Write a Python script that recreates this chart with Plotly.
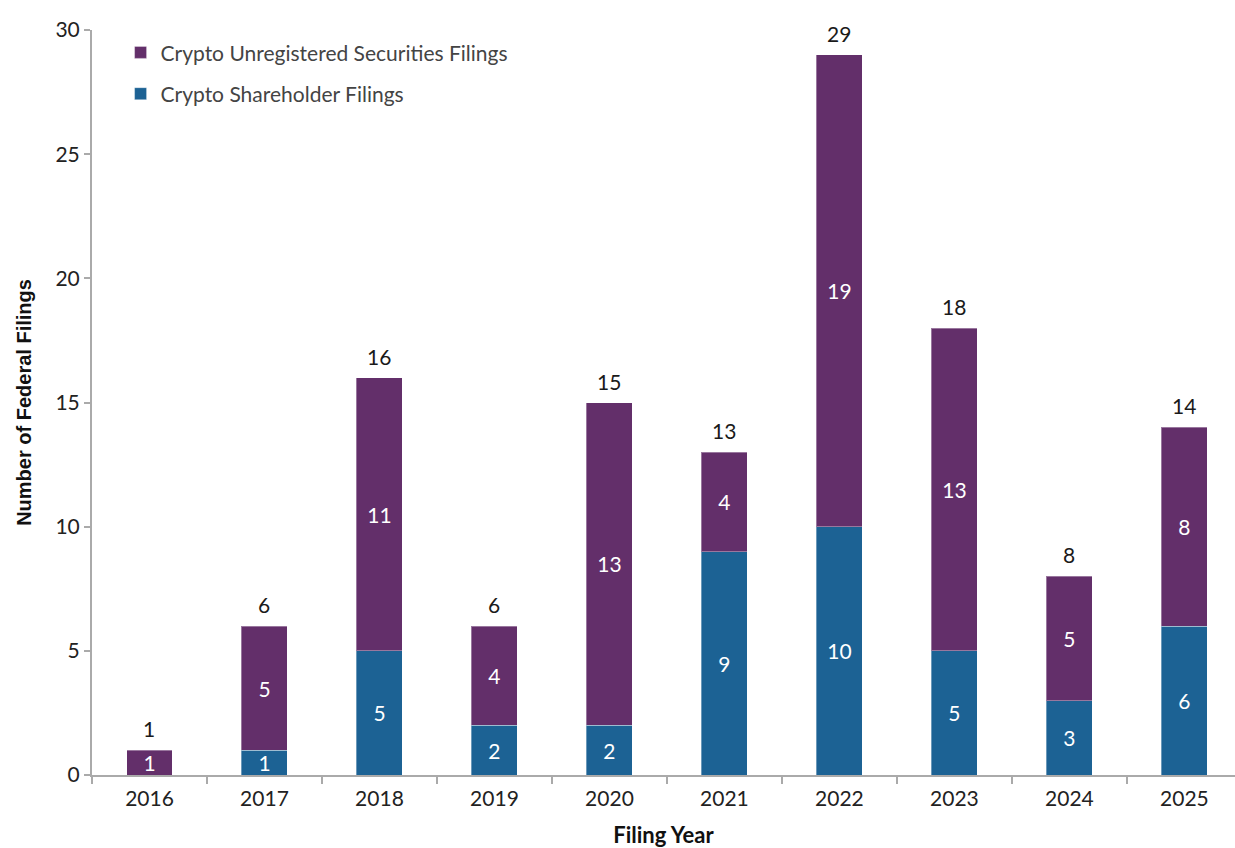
import plotly.graph_objects as go

years = ["2016", "2017", "2018", "2019", "2020", "2021", "2022", "2023", "2024", "2025"]
shareholder = [0, 1, 5, 2, 2, 9, 10, 5, 3, 6]
unregistered = [1, 5, 11, 4, 13, 4, 19, 13, 5, 8]
totals = [s + u for s, u in zip(shareholder, unregistered)]
y_ticks = [0, 5, 10, 15, 20, 25, 30]

PURPLE = "#632F6A"
BLUE = "#1C6294"
FONT = "Lato"
FS = 21

fig = go.Figure()
fig.add_trace(go.Bar(
    x=years, y=shareholder, name="Crypto Shareholder Filings",
    marker=dict(color=BLUE, line=dict(color="rgba(255,255,255,0.35)", width=1)),
    text=[str(v) if v else "" for v in shareholder],
    textposition="inside", insidetextanchor="middle", textangle=0,
    constraintext="none",
    textfont=dict(color="white", size=FS, family=FONT),
    width=0.4, legendgroup="b", legendrank=2,
))
fig.add_trace(go.Bar(
    x=years, y=unregistered, name="Crypto Unregistered Securities Filings",
    marker=dict(color=PURPLE, line=dict(color="rgba(255,255,255,0.35)", width=1)),
    text=[str(v) if v else "" for v in unregistered],
    textposition="inside", insidetextanchor="middle", textangle=0,
    constraintext="none",
    textfont=dict(color="white", size=FS, family=FONT),
    width=0.4, legendgroup="a", legendrank=1,
))

for i, t in enumerate(totals):
    fig.add_annotation(
        x=i, y=t, xref="x", yref="y", text=str(t), showarrow=False,
        yanchor="bottom", yshift=7,
        font=dict(color="#1a1a1a", size=FS, family=FONT),
    )

fig.update_layout(
    width=1235, height=848,
    barmode="stack",
    plot_bgcolor="white", paper_bgcolor="white",
    margin=dict(l=92, r=0, t=30, b=73),
    font=dict(family=FONT, size=FS, color="#222"),
    uniformtext=dict(minsize=FS, mode="show"),
    legend=dict(
        x=0.025, y=0.997, xanchor="left", yanchor="top",
        font=dict(size=FS, color="#444", family=FONT),
        traceorder="grouped", tracegroupgap=11,
        bgcolor="rgba(0,0,0,0)", itemwidth=30,
    ),
    xaxis=dict(
        type="category", range=[-0.5, 9.44],
        showline=True, linecolor="#aaaaaa", linewidth=2,
        ticks="outside", tickson="boundaries", ticklen=7, tickcolor="#aaaaaa", tickwidth=2,
        tickfont=dict(size=FS, color="#222"), ticklabelstandoff=4,
        title=dict(text="<b>Filing Year</b>", font=dict(size=22, color="#111", family=FONT), standoff=20),
        showgrid=False, zeroline=False,
    ),
    yaxis=dict(
        range=[0, 30], tickvals=y_ticks,
        showline=True, linecolor="#aaaaaa", linewidth=2,
        ticks="outside", ticklen=6, tickcolor="#aaaaaa", tickwidth=2,
        tickfont=dict(size=FS, color="#222"),
        title=dict(text="<b>Number of Federal Filings</b>",
                   font=dict(size=20, color="#111", family="Liberation Sans"), standoff=18),
        showgrid=False, zeroline=False,
    ),
)

fig.write_html("out.html")
